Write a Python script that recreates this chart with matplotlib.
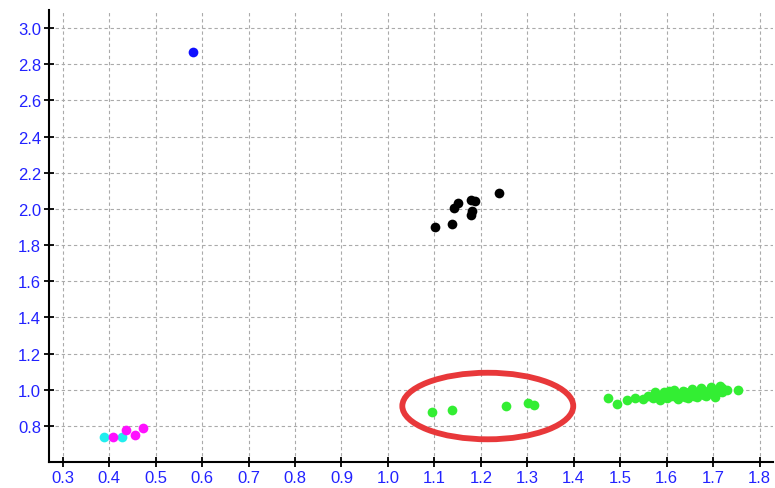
import matplotlib.pyplot as plt
from matplotlib.patches import Ellipse

# point groups
blue_x = [0.58]
blue_y = [2.87]

cyan_x = [0.388, 0.428]
cyan_y = [0.74, 0.74]

magenta_x = [0.409, 0.437, 0.455, 0.472]
magenta_y = [0.736, 0.78, 0.75, 0.79]

black_x = [1.101, 1.138, 1.142, 1.151, 1.178, 1.187, 1.179, 1.18, 1.239]
black_y = [1.90, 1.915, 2.004, 2.031, 2.051, 2.043, 1.967, 1.99, 2.088]

green_x = [1.095, 1.139, 1.254, 1.302, 1.315,
           1.474, 1.493, 1.514, 1.532, 1.55, 1.56, 1.57, 1.58, 1.59, 1.60,
           1.60, 1.61, 1.62, 1.62, 1.63, 1.64, 1.64, 1.65, 1.66, 1.66,
           1.67, 1.68, 1.68, 1.69, 1.70, 1.70, 1.71, 1.72, 1.72, 1.73, 1.753,
           1.575, 1.595, 1.615, 1.635, 1.655, 1.675, 1.695, 1.715, 1.705,
           1.585, 1.625, 1.645, 1.665, 1.685, 1.605]
green_y = [0.877, 0.888, 0.909, 0.924, 0.914,
           0.953, 0.92, 0.942, 0.953, 0.95, 0.965, 0.955, 0.97, 0.96, 0.975,
           0.955, 0.965, 0.98, 0.96, 0.97, 0.985, 0.96, 0.975, 0.99, 0.965,
           0.98, 0.995, 0.97, 0.985, 1.00, 0.975, 0.99, 1.01, 0.985, 1.00, 0.999,
           0.985, 0.99, 1.0, 0.995, 1.005, 1.01, 1.015, 1.02, 0.96,
           0.945, 0.95, 0.955, 0.96, 0.965, 0.995]

x_ticks = [0.3, 0.4, 0.5, 0.6, 0.7, 0.8, 0.9, 1.0, 1.1, 1.2, 1.3, 1.4, 1.5, 1.6, 1.7, 1.8]
y_ticks = [0.8, 1.0, 1.2, 1.4, 1.6, 1.8, 2.0, 2.2, 2.4, 2.6, 2.8, 3.0]

plt.rcParams['font.family'] = ['Liberation Sans', 'DejaVu Sans']

fig = plt.figure(figsize=(7.75, 4.89), dpi=100)
ax = fig.add_axes([0.063, 0.053, 0.935, 0.9245])

ms = 7
ax.plot(blue_x, blue_y, 'o', color='#1010ff', ms=ms, mec='none', zorder=3)
ax.plot(cyan_x, cyan_y, 'o', color='#22eeee', ms=ms, mec='none', zorder=3)
ax.plot(magenta_x, magenta_y, 'o', color='#ff10ff', ms=ms, mec='none', zorder=3)
ax.plot(black_x, black_y, 'o', color='black', ms=ms, mec='none', zorder=3)
ax.plot(green_x, green_y, 'o', color='#33ee33', ms=ms, mec='none', zorder=3)

# red highlight ring around the small green group
ax.add_patch(Ellipse((1.215, 0.91), 0.368, 0.368, fill=False,
                     edgecolor='#e8383a', linewidth=4.2, zorder=4))

ax.set_xlim(0.27, 1.83)
ax.set_ylim(0.6, 3.1)
ax.set_xticks(x_ticks)
ax.set_yticks(y_ticks)
ax.set_xticklabels([f'{v:.1f}' for v in x_ticks])
ax.set_yticklabels([f'{v:.1f}' for v in y_ticks])

ax.grid(True, color='#aaaaaa', linestyle=(0, (3, 2.5)), linewidth=0.8)
ax.set_axisbelow(True)

for side in ['top', 'right']:
    ax.spines[side].set_visible(False)
ax.spines['left'].set_linewidth(1.5)
ax.spines['bottom'].set_linewidth(1.5)

ax.tick_params(direction='inout', length=7, width=1.3, colors='black',
               labelcolor='#2222ff', labelsize=12, pad=2)

fig.savefig('out.png', dpi=100)
